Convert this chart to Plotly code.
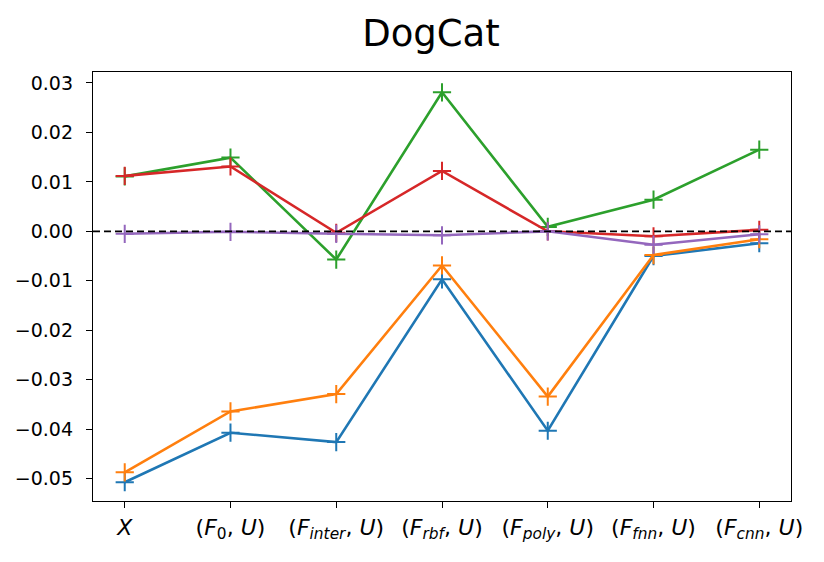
import plotly.graph_objects as go

categories = ["<i>X</i>", "(<i>F</i><sub>0</sub>, <i>U</i>)", "(<i>F</i><sub><i>inter</i></sub>, <i>U</i>)",
              "(<i>F</i><sub><i>rbf</i></sub>, <i>U</i>)", "(<i>F</i><sub><i>poly</i></sub>, <i>U</i>)",
              "(<i>F</i><sub><i>fnn</i></sub>, <i>U</i>)", "(<i>F</i><sub><i>cnn</i></sub>, <i>U</i>)"]

blue = [-0.0507, -0.0407, -0.0426, -0.0097, -0.0403, -0.0050, -0.0024]
orange = [-0.0487, -0.0364, -0.0329, -0.0069, -0.0334, -0.0048, -0.0016]
green = [0.0111, 0.0149, -0.0057, 0.0281, 0.0009, 0.0064, 0.0165]
red = [0.0112, 0.0131, -0.0003, 0.0122, 0.0000, -0.0010, 0.0003]
purple = [-0.0005, -0.0001, -0.0005, -0.0008, 0.0000, -0.0027, -0.0006]

series = [blue, orange, green, red, purple]
colors = ["#1f77b4", "#ff7f0e", "#2ca02c", "#d62728", "#9467bd"]
yticks = [0.03, 0.02, 0.01, 0.0, -0.01, -0.02, -0.03, -0.04, -0.05]

xs = list(range(len(categories)))
fig = go.Figure()
for vals, c in zip(series, colors):
    fig.add_trace(go.Scatter(
        x=xs, y=vals, mode="lines+markers",
        line=dict(color=c, width=2.6),
        marker=dict(symbol="cross-thin", size=13, line=dict(color=c, width=2)),
        showlegend=False))

fig.add_shape(type="line", xref="paper", yref="y", x0=0, x1=1, y0=0, y1=0,
              line=dict(color="black", width=1.6, dash="7px,4px"), layer="above")

fig.update_layout(
    width=824, height=562,
    margin=dict(l=93, r=33, t=72, b=61),
    paper_bgcolor="white", plot_bgcolor="white",
    font=dict(family="DejaVu Sans", color="black", size=19),
    title=dict(text="DogCat", x=431 / 824, xanchor="center", y=1 - 33 / 562, yanchor="middle",
               xref="container", yref="container",
               font=dict(size=37, family="DejaVu Sans", color="black")),
)
fig.update_xaxes(
    range=[-0.3, 6.3], tickmode="array", tickvals=xs, ticktext=categories,
    showline=True, linecolor="black", linewidth=1.3, mirror=True,
    ticks="outside", ticklen=6, tickwidth=1.3, tickcolor="black",
    showgrid=False, zeroline=False, tickfont=dict(size=22), tickangle=0,
)
fig.update_yaxes(
    range=[-0.0545, 0.0322], tickmode="array", tickvals=yticks,
    ticktext=[f"{v:.2f}".replace("-", "\u2212") for v in yticks],
    showline=True, linecolor="black", linewidth=1.3, mirror=True,
    ticks="outside", ticklen=6, tickwidth=1.3, tickcolor="black",
    showgrid=False, zeroline=False, tickfont=dict(size=19), ticklabelstandoff=9,
)
fig.write_html("out.html")
